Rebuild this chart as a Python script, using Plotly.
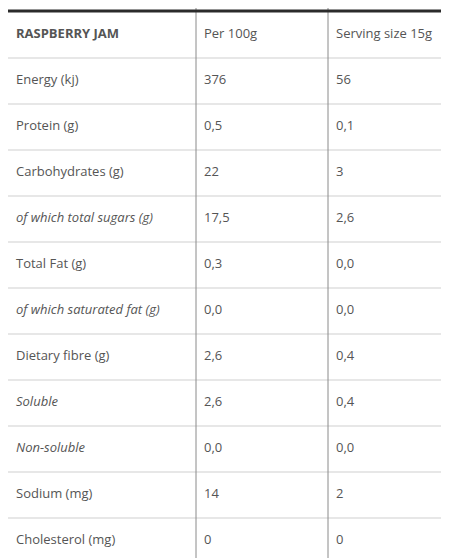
import plotly.graph_objects as go

header = ["<b>RASPBERRY JAM</b>", "Per 100g", "Serving size 15g"]
nutrients = ["Energy (kj)", "Protein (g)", "Carbohydrates (g)", "<i>of which total sugars (g)</i>",
             "Total Fat (g)", "<i>of which saturated fat (g)</i>", "Dietary fibre (g)", "<i>Soluble</i>",
             "<i>Non-soluble</i>", "Sodium (mg)", "Cholesterol (mg)"]
per100 = ["376", "0,5", "22", "17,5", "0,3", "0,0", "2,6", "2,6", "0,0", "14", "0"]
serving = ["56", "0,1", "3", "2,6", "0,0", "0,0", "0,4", "0,4", "0,0", "2", "0"]

W, H = 449, 558
col_edges = [0, 188, 320, 449]
top, head_h, row_h = 3, 47, 46
n = len(nutrients)

font = dict(family="Open Sans", size=13, color="#555")
fig = go.Figure()
columns = [nutrients, per100, serving]
for c in range(3):
    texts = [header[c]] + columns[c]
    ys = [top + head_h / 2] + [top + head_h + row_h * (i + 0.5) for i in range(n)]
    xs = [col_edges[c] + 8] * len(texts)
    fig.add_trace(go.Scatter(x=xs, y=ys, text=texts, mode="text",
                             textposition="middle right", textfont=font,
                             hoverinfo="skip", showlegend=False))

shapes = []
for i in range(n):
    y = top + head_h + row_h * i
    shapes.append(dict(type="line", x0=0, x1=W, y0=y, y1=y, line=dict(color="#cfcfcf", width=1)))
bottom = top + head_h + row_h * n
for px in col_edges[1:3]:
    shapes.append(dict(type="line", x0=px, x1=px, y0=0, y1=H, line=dict(color="#8a8a8a", width=1)))
shapes.append(dict(type="line", x0=0, x1=W, y0=top, y1=top, line=dict(color="#2b2b2b", width=3)))
shapes.append(dict(type="line", x0=0, x1=W, y0=bottom, y1=bottom, line=dict(color="#2b2b2b", width=3)))

fig.update_layout(
    width=W, height=H, margin=dict(l=0, r=0, t=0, b=0),
    paper_bgcolor="white", plot_bgcolor="white", shapes=shapes,
    xaxis=dict(range=[0, W], visible=False, fixedrange=True),
    yaxis=dict(range=[H, 0], visible=False, fixedrange=True))
fig.write_html("out.html")
